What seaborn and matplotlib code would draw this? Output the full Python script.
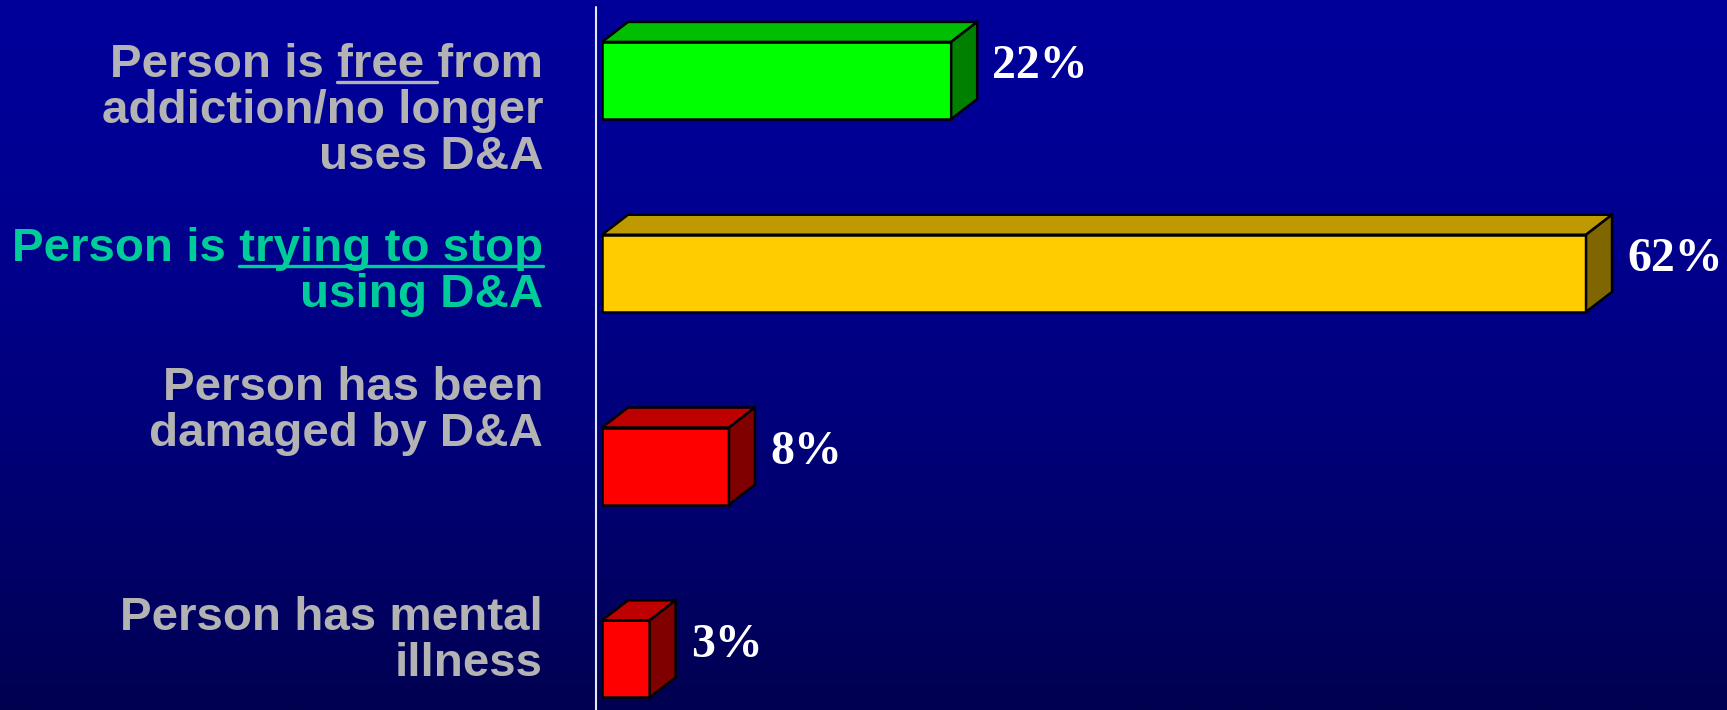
import numpy as np
import pandas as pd
import seaborn as sns
import matplotlib.pyplot as plt
from matplotlib.patches import Polygon
from matplotlib.lines import Line2D
from matplotlib.colors import to_rgb

# Données du graphique
categories = ["Person is free from\naddiction/no longer\nuses D&A",
              "Person is trying to stop\nusing D&A",
              "Person has been\ndamaged by D&A",
              "Person has mental\nillness"]
values = [22, 62, 8, 3]
value_labels = ["22%", "62%", "8%", "3%"]
underlined = ["free ", "trying to stop", "", ""]

# Couleurs
front_colors = ["#00FF00", "#FFCC00", "#FF0000", "#FF0000"]
top_colors = ["#00BF00", "#BF9900", "#BF0000", "#BF0000"]
side_colors = ["#008000", "#806600", "#800000", "#800000"]
label_colors = ["#B3B3B3", "#00CC99", "#B3B3B3", "#B3B3B3"]

W, H, DPI = 1727, 710, 100
DX, DY = 26, 20  # profondeur 3D en pixels

sns.set_theme(style="white")
fig = plt.figure(figsize=(W / DPI, H / DPI), dpi=DPI)

# fond en dégradé bleu
bg = fig.add_axes([0, 0, 1, 1], zorder=-1)
t = np.linspace(0, 1, 256) ** 1.7
c_top = np.array(to_rgb("#000099"))
c_bot = np.array(to_rgb("#000050"))
grad = c_top[None, :] * (1 - t[:, None]) + c_bot[None, :] * t[:, None]
bg.imshow(grad[:, None, :], aspect="auto", extent=[0, 1, 0, 1])
bg.axis("off")

# barres
ax = fig.add_axes([602 / W, 0, 1111 / W, 1])
ax.patch.set_alpha(0)
df = pd.DataFrame({"cat": categories, "val": values})
sns.barplot(data=df, x="val", y="cat", hue="cat", palette=front_colors,
            saturation=1, width=0.4, edgecolor="black", linewidth=1.8,
            legend=False, ax=ax, zorder=3)
ax.set_xlim(0, 70)
ax.set_ylim(3.265, -0.4175)
ax.axis("off")

to_disp = ax.transData.transform
to_data = ax.transData.inverted().transform

bars = sorted(ax.patches, key=lambda p: p.get_y())
for i, p in enumerate(bars):
    x0, y0 = p.get_x(), p.get_y()
    x1, y1 = x0 + p.get_width(), y0 + p.get_height()
    (xl, yt), (xr, yb) = to_disp([(x0, y0), (x1, y1)])
    if yt < yb:
        yt, yb = yb, yt
    top_face = [(xl, yt), (xl + DX, yt + DY), (xr + DX, yt + DY), (xr, yt)]
    side_face = [(xr, yt), (xr + DX, yt + DY), (xr + DX, yb + DY), (xr, yb)]
    for face, col in [(top_face, top_colors[i]), (side_face, side_colors[i])]:
        ax.add_patch(Polygon(to_data(face), closed=True, facecolor=col,
                             edgecolor="black", linewidth=1.8, zorder=3,
                             clip_on=False))
    ax.annotate(value_labels[i], xy=(x1, (y0 + y1) / 2),
                xytext=(DX + 15, 14), textcoords="offset pixels",
                ha="left", va="center", color="white", fontsize=34.5,
                fontweight="bold", family="Liberation Serif",
                annotation_clip=False)

# libellés des catégories (texte à droite, certains soulignés)
first_baselines = [77, 261, 400, 630]
line_step = 46
label_right = 543
renderer = fig.canvas.get_renderer()
font_kw = dict(fontsize=34.2, fontweight="bold", family="Liberation Sans")


def text_width(s):
    if not s:
        return 0
    tmp = fig.text(0, 0, s, **font_kw)
    w = tmp.get_window_extent(renderer).width
    tmp.remove()
    return w


for i, lab in enumerate(categories):
    for j, line in enumerate(lab.split("\n")):
        yb = first_baselines[i] + j * line_step
        fig.text(label_right / W, 1 - yb / H, line, ha="right", va="baseline",
                 color=label_colors[i], **font_kw)
        u = underlined[i]
        if u and u in line:
            k = line.index(u)
            x_start = label_right - text_width(line[k:])
            x_end = label_right - text_width(line[k + len(u):])
            y_u = 1 - (yb + 5) / H
            fig.add_artist(Line2D([x_start / W, x_end / W], [y_u, y_u],
                                  transform=fig.transFigure,
                                  color=label_colors[i], lw=2.4))

# ligne verticale de l'axe
fig.add_artist(Line2D([596 / W, 596 / W], [0, 1 - 7 / H],
                      transform=fig.transFigure, color="#E6E6FF", lw=1.5))

fig.savefig("out.png", dpi=DPI)
plt.close()
